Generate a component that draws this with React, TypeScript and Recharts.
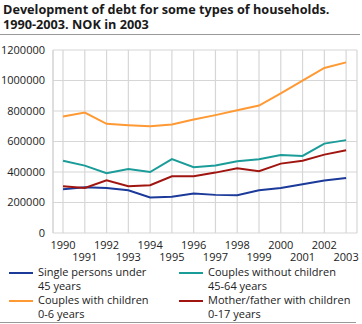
import { CartesianGrid, Line, LineChart, XAxis, YAxis } from 'recharts';

const years = [1990, 1991, 1992, 1993, 1994, 1995, 1996, 1997, 1998, 1999, 2000, 2001, 2002, 2003];
const singleUnder45 = [287000, 300000, 295000, 280000, 233000, 237000, 259000, 250000, 248000, 280000, 295000, 320000, 344000, 361000];
const couplesWithChildren = [764000, 790000, 716000, 707000, 700000, 712000, 744000, 773000, 805000, 836000, 916000, 999000, 1082000, 1119000];
const couplesWithoutChildren = [474000, 442000, 392000, 420000, 400000, 485000, 431000, 442000, 470000, 483000, 511000, 505000, 586000, 609000];
const singleParent = [306000, 295000, 346000, 306000, 313000, 372000, 372000, 396000, 424000, 405000, 455000, 474000, 514000, 542000];
const yTicks = [0, 200000, 400000, 600000, 800000, 1000000, 1200000];

const SERIES = [
  { key: 'single', label: ['Single persons under', '45 years'], color: '#1b3a9a', values: singleUnder45 },
  { key: 'noKids', label: ['Couples without children', '45-64 years'], color: '#1a9c99', values: couplesWithoutChildren },
  { key: 'kids', label: ['Couples with children', '0-6 years'], color: '#ff9933', values: couplesWithChildren },
  { key: 'parent', label: ['Mother/father with children', '0-17 years'], color: '#a11510', values: singleParent },
];

const data = years.map((year, i) => {
  const row: Record<string, number> = { year };
  SERIES.forEach(s => {
    row[s.key] = s.values[i];
  });
  return row;
});

const FONT = '"Open Sans", sans-serif';
const TEXT = '#222';

function YearTick({ x, y, payload }: { x?: number; y?: number; payload?: { value: number } }) {
  const v = payload?.value ?? 0;
  const odd = v % 2 === 1;
  return (
    <text x={x} y={(y ?? 0) + (odd ? 20 : 8)} textAnchor="middle" fontSize={11} fill={TEXT} fontFamily={FONT}>
      {v}
    </text>
  );
}

function LegendItem({ color, label }: { color: string; label: string[] }) {
  return (
    <div style={{ display: 'flex', alignItems: 'flex-start', height: 28 }}>
      <div style={{ width: 24, height: 2, background: color, marginTop: 6, marginRight: 5, flexShrink: 0 }} />
      <div style={{ fontSize: 11, lineHeight: '14px', color: TEXT, marginTop: -1 }}>
        {label[0]}
        <br />
        {label[1]}
      </div>
    </div>
  );
}

export default function App() {
  return (
    <div style={{ position: 'absolute', left: 0, top: 0, width: 362, height: 324, background: '#fff', fontFamily: FONT }}>
      <div style={{ position: 'absolute', left: 3, top: 2, fontSize: 12.7, fontWeight: 700, lineHeight: '15px', color: '#1a1a1a' }}>
        Development of debt for some types of households.
        <br />
        1990-2003. NOK in 2003
      </div>
      <div style={{ position: 'absolute', left: 0, top: 34, width: 360, height: 1, background: '#999' }} />
      <div style={{ position: 'absolute', left: 0, top: 40 }}>
        <LineChart width={362} height={224} data={data} margin={{ top: 10, right: 5, left: 0, bottom: 0 }}>
          <CartesianGrid stroke="#d6d6d6" strokeWidth={1.2} />
          <XAxis
            dataKey="year"
            type="number"
            domain={[1989.54, 2003.5]}
            ticks={years}
            interval={0}
            tick={<YearTick />}
            tickLine={false}
            axisLine={false}
            height={31}
          />
          <YAxis
            domain={[0, 1200000]}
            ticks={yTicks}
            interval={0}
            width={53}
            tickLine={false}
            axisLine={{ stroke: '#d6d6d6' }}
            tick={{ fontSize: 11, fill: TEXT, fontFamily: FONT }}
            tickMargin={2}
          />
          {SERIES.map(s => (
            <Line
              key={s.key}
              dataKey={s.key}
              stroke={s.color}
              strokeWidth={2}
              dot={false}
              type="linear"
              isAnimationActive={false}
            />
          ))}
        </LineChart>
      </div>
      <div style={{ position: 'absolute', left: 9, top: 266, display: 'grid', gridTemplateColumns: '170px 180px' }}>
        <LegendItem color={SERIES[0].color} label={SERIES[0].label} />
        <LegendItem color={SERIES[1].color} label={SERIES[1].label} />
        <LegendItem color={SERIES[2].color} label={SERIES[2].label} />
        <LegendItem color={SERIES[3].color} label={SERIES[3].label} />
      </div>
      <div style={{ position: 'absolute', left: 0, top: 322, width: 356, height: 1, background: '#999' }} />
    </div>
  );
}
